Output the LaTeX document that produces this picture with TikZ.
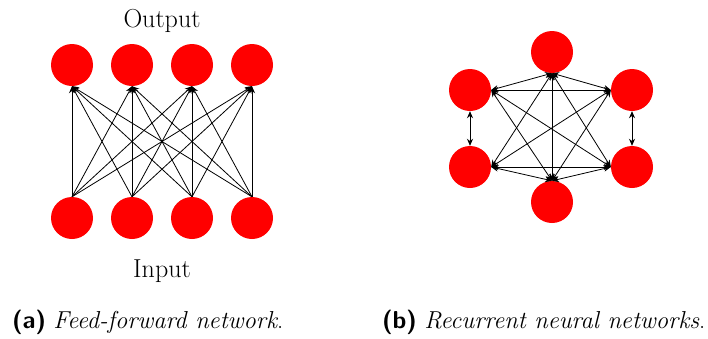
\documentclass[tikz,border=0pt]{standalone}
\usepackage{fontspec}
\usetikzlibrary{arrows.meta}
\begin{document}
\begin{tikzpicture}[x=1pt,y=-1pt,
  neuron/.style={circle,fill=red,inner sep=0pt,minimum size=42pt},
  conn/.style={-{Stealth[length=7pt,width=6pt]},line width=0.8pt},
  bconn/.style={{Stealth[length=7pt,width=6pt]}-{Stealth[length=7pt,width=6pt]},line width=0.8pt},
  lbl/.style={font=\fontsize{26}{29}\selectfont,anchor=base},
  captext/.style={font=\fontsize{24.5}{28}\selectfont,anchor=base west,inner sep=0pt}]
\useasboundingbox (0,0) rectangle (708,338);
% left panel
\foreach \i/\x in {1/72,2/132,3/192,4/252}{
  \node[neuron] (o\i) at (\x,65) {};
  \node[neuron] (n\i) at (\x,218) {};
}
\foreach \i in {1,...,4}{
  \foreach \j in {1,...,4}{
    \draw[conn] (n\i.north) -- (o\j.south);
  }
}
\node[lbl] (out) at (162,27) {Output};
\node[lbl] (inp) at (162,277) {Input};
% right panel
\node[neuron] (T) at (552,52) {};
\node[neuron] (B) at (552,202) {};
\node[neuron] (TL) at (470,90) {};
\node[neuron] (TR) at (632,90) {};
\node[neuron] (BL) at (470,167) {};
\node[neuron] (BR) at (632,167) {};
\draw[bconn] (TL.east) -- (TR.west);
\draw[bconn] (BL.east) -- (BR.west);
\draw[bconn] (T.south) -- (B.north);
\draw[bconn] (TL.south) -- (BL.north);
\draw[bconn] (TR.south) -- (BR.north);
\draw[bconn] (T.south) -- (TL.east);
\draw[bconn] (T.south) -- (TR.west);
\draw[bconn] (B.north) -- (BL.east);
\draw[bconn] (B.north) -- (BR.west);
\draw[bconn] (T.south) -- (BL.east);
\draw[bconn] (T.south) -- (BR.west);
\draw[bconn] (B.north) -- (TL.east);
\draw[bconn] (B.north) -- (TR.west);
\draw[bconn] (TL.east) -- (BR.west);
\draw[bconn] (TR.west) -- (BL.east);
% captions
\node[captext] (ca) at (12,328) {\textsf{\textbf{(a)}}~\textit{Feed-forward network}.};
\node[captext] (cb) at (382,328) {\textsf{\textbf{(b)}}~\textit{Recurrent neural networks}.};
\end{tikzpicture}
\end{document}
